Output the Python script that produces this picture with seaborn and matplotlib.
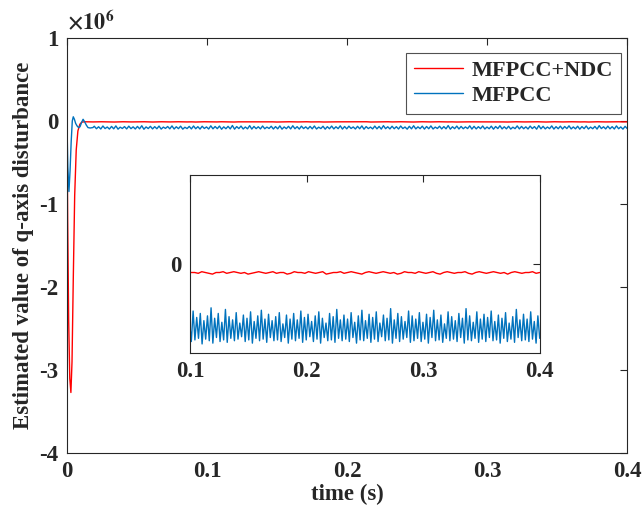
import numpy as np
import pandas as pd
import matplotlib
matplotlib.use("Agg")
import matplotlib.pyplot as plt
import seaborn as sns

# start-up transient (time in s, value in units of 1e6)
red_t0 = [0.0, 0.0005, 0.0012, 0.0020, 0.0028, 0.0036, 0.0045, 0.0055, 0.0066, 0.0078, 0.0092, 0.0105, 0.0118]
red_v0 = [0.0, -1.2, -2.4, -3.1, -3.27, -2.9, -1.9, -0.9, -0.35, -0.12, -0.04, -0.015, -0.011]

blue_t0 = [0.0, 0.0006, 0.0014, 0.0022, 0.0030, 0.0038, 0.0045, 0.0053, 0.0062, 0.0072, 0.0083,
           0.0093, 0.0104, 0.0115, 0.0126, 0.0138, 0.0150, 0.0165, 0.0185]
blue_v0 = [-0.05, -0.55, -0.85, -0.6, -0.25, 0.0, 0.05, 0.02, -0.03, -0.06, -0.08,
           -0.07, -0.02, 0.02, -0.01, -0.05, -0.08, -0.085, -0.08]

# steady-state ripple (units of 1e3)
red_ripple = [
    -10, -11, -12, -11, -10, -11, -12, -13, -11, -10, -11, -12, -11, -11, -10, -12, -13, -11, -10, -11,
    -12, -11, -10, -11, -12, -11, -13, -11, -10, -11, -11, -12, -10, -11, -12, -13, -11, -11, -10, -12,
    -11, -10, -11, -12, -11, -13, -12, -11, -10, -11, -12, -11, -10, -12, -11, -11, -13, -12, -10, -11,
    -11, -12, -10, -11, -12, -11, -10, -13, -12, -11, -11, -10, -12, -11, -10, -11, -12, -13, -11, -10,
    -11, -12, -11, -10, -11, -12, -11, -13, -12, -10, -11, -11, -12, -10, -11, -12, -11, -10, -12, -13,
    -11, -10, -11, -12, -11, -11, -10, -12, -13, -11, -10, -11, -12, -11, -10, -11, -12, -11, -13, -11,
    -10, -11, -12, -11, -11, -10, -12, -11]

blue_ripple = [
    -64, -94, -70, -97, -61, -92, -73, -98, -66, -95, -60, -99, -75, -91, -68, -96, -63, -93, -71, -97,
    -66, -95, -58, -100, -72, -92, -65, -96, -69, -94, -62, -98, -74, -90, -67, -95, -60, -97, -70, -93,
    -63, -99, -76, -92, -66, -96, -61, -94, -69, -98, -64, -91, -72, -97, -59, -95, -67, -93, -62, -100,
    -71, -94, -65, -96, -55, -99, -68, -92, -62, -97, -73, -95, -57, -98, -66, -93, -70, -96, -61, -94,
    -74, -91, -64, -97, -68, -95, -60, -99, -72, -93, -65, -96, -58, -94, -69, -98, -63, -92, -71, -96,
    -66, -95, -61, -97, -75, -92, -64, -99, -69, -94, -62, -96, -70, -93, -59, -98, -67, -95, -63, -91,
    -72, -97, -65, -94, -60, -99, -68, -92, -74, -96, -62, -95, -66, -98, -57, -93, -70, -96, -64, -94,
    -69, -97, -61, -92, -73, -99, -65, -95, -58, -96, -71, -93, -63, -98, -67, -94, -60, -97, -74, -91,
    -64, -96, -68, -95, -56, -99, -70, -93, -62, -97, -66, -94, -72, -92, -59, -98, -65, -96, -69, -93,
    -61, -97, -73, -94, -63, -99, -67, -92, -58, -96, -70, -95, -64, -98, -75, -93, -60, -96, -66, -94,
    -71, -97, -62, -92, -68, -99, -56, -95, -65, -96, -73, -93, -60, -98, -69, -94, -63, -97, -67, -92,
    -59, -96, -72, -95, -64, -99, -68, -93, -61, -97, -74, -94, -66, -98, -57, -92, -70, -96, -63, -95,
    -69, -97, -60, -94, -72, -99, -65, -93]

labels = ["MFPCC+NDC", "MFPCC"]
x_ticks = [0, 0.1, 0.2, 0.3, 0.4]
x_ticklabels = ["0", "0.1", "0.2", "0.3", "0.4"]
y_ticks = [1e6, 0, -1e6, -2e6, -3e6, -4e6]
y_ticklabels = ["1", "0", "-1", "-2", "-3", "-4"]
inset_x_ticks = [0.1, 0.2, 0.3, 0.4]
inset_x_ticklabels = ["0.1", "0.2", "0.3", "0.4"]

red_t = np.concatenate([red_t0, np.linspace(0.0125, 0.4, len(red_ripple))])
red_v = np.concatenate([np.array(red_v0) * 1e6, np.array(red_ripple) * 1e3])
blue_t = np.concatenate([blue_t0, np.linspace(0.0195, 0.4, len(blue_ripple))])
blue_v = np.concatenate([np.array(blue_v0) * 1e6, np.array(blue_ripple) * 1e3])

df_red = pd.DataFrame({"t": red_t, "v": red_v})
df_blue = pd.DataFrame({"t": blue_t, "v": blue_v})

sns.set_style("white")
plt.rcParams["font.family"] = ["Liberation Serif", "DejaVu Serif"]
plt.rcParams["font.weight"] = "bold"
plt.rcParams["mathtext.fontset"] = "stix"
plt.rcParams["axes.unicode_minus"] = False
plt.rcParams["axes.edgecolor"] = "#262626"
plt.rcParams["axes.linewidth"] = 0.8

red = "#FF0000"
blue = "#0072BD"
fs = 16.5

fig = plt.figure(figsize=(6.44, 5.12), dpi=100)
ax = fig.add_axes([0.104, 0.115, 0.87, 0.811])

sns.lineplot(data=df_red, x="t", y="v", ax=ax, color=red, lw=1.0, label=labels[0], estimator=None)
sns.lineplot(data=df_blue, x="t", y="v", ax=ax, color=blue, lw=1.0, label=labels[1], estimator=None)

ax.set_xlim(0, 0.4)
ax.set_ylim(-4e6, 1e6)
ax.set_xticks(x_ticks)
ax.set_xticklabels(x_ticklabels, fontsize=fs, fontweight="bold")
ax.set_yticks(y_ticks)
ax.set_yticklabels(y_ticklabels, fontsize=fs, fontweight="bold")
ax.tick_params(direction="in", top=True, right=True, length=5, width=0.8, color="#262626", pad=6)
ax.text(0.0, 1.006, r"$\times10^{6}$", transform=ax.transAxes, fontsize=16, ha="left", va="bottom")
ax.set_xlabel("time (s)", fontsize=fs, fontweight="bold", labelpad=1)
ax.set_ylabel("Estimated value of q-axis disturbance", fontsize=fs, fontweight="bold", labelpad=4)

leg = ax.legend(loc="upper right", bbox_to_anchor=(0.997, 0.975), fontsize=16, frameon=True,
                fancybox=False, edgecolor="#262626", handlelength=2.2, borderpad=0.35,
                labelspacing=0.2, handletextpad=0.4, borderaxespad=0.2)
leg.get_frame().set_linewidth(0.8)
for txt in leg.get_texts():
    txt.set_fontweight("bold")

# inset zoom
axin = fig.add_axes([0.295, 0.311, 0.543, 0.348])
sns.lineplot(data=df_red, x="t", y="v", ax=axin, color=red, lw=1.0, estimator=None, legend=False)
sns.lineplot(data=df_blue, x="t", y="v", ax=axin, color=blue, lw=1.0, estimator=None, legend=False)
axin.set_xlim(0.1, 0.4)
axin.set_ylim(-1.11e5, 1.11e5)
axin.set_xticks(inset_x_ticks)
axin.set_xticklabels(inset_x_ticklabels, fontsize=fs, fontweight="bold")
axin.set_yticks([0])
axin.set_yticklabels(["0"], fontsize=fs, fontweight="bold")
axin.tick_params(direction="in", top=True, right=True, length=5, width=0.8, color="#262626", pad=6)
axin.set_xlabel("")
axin.set_ylabel("")

fig.savefig("out.png", dpi=100)
